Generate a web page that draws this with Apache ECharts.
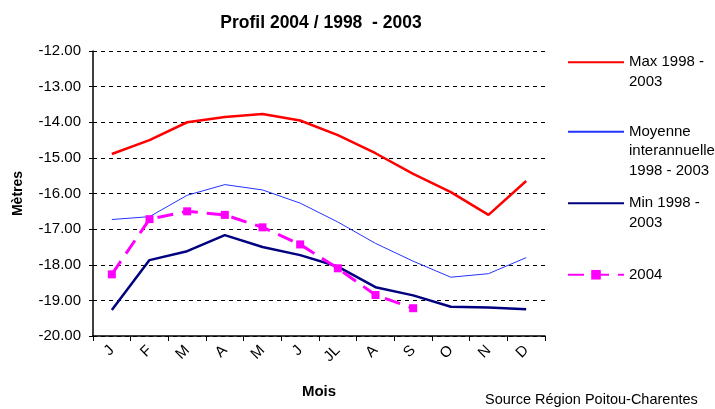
<!DOCTYPE html>
<html>
<head>
<meta charset="utf-8">
<script src="https://cdn.jsdelivr.net/npm/echarts@6/dist/echarts.min.js"></script>
<style>
    html, body {margin: 0; padding: 0; background: #fff;}
    #chart {width: 715px; height: 409px;}
</style>
</head>
<body>
<div id="chart"></div>
<script>
const months = ['J', 'F', 'M', 'A', 'M', 'J', 'JL', 'A', 'S', 'O', 'N', 'D'];
const maxValues = [-14.89, -14.5, -14.0, -13.85, -13.77, -13.95, -14.36, -14.87, -15.45, -15.96, -16.6, -15.65];
const meanValues = [-16.73, -16.65, -16.05, -15.75, -15.9, -16.27, -16.8, -17.4, -17.9, -18.35, -18.25, -17.8];
const minValues = [-19.27, -17.87, -17.62, -17.17, -17.5, -17.73, -18.05, -18.63, -18.86, -19.18, -19.2, -19.25];
const values2004 = [-18.27, -16.72, -16.5, -16.6, -16.95, -17.43, -18.1, -18.85, -19.22];

const names = {
    max: 'Max 1998 - 2003',
    mean: 'Moyenne interannuelle 1998 - 2003',
    min: 'Min 1998 - 2003',
    y2004: '2004',
};
// extra blank lines so the icon sits on the first line of text
const legendLabels = {
    [names.max]: '\nMax 1998 -\n2003',
    [names.mean]: '\n\nMoyenne\ninterannuelle\n1998 - 2003',
    [names.min]: '\nMin 1998 -\n2003',
    [names.y2004]: '2004',
};

const font = 'Liberation Sans, Arial, sans-serif';
const chart = echarts.init(document.getElementById('chart'));

const mkLegend = (name, top, withMarker) => ({
    data: [name],
    left: 567,
    top: top,
    padding: 0,
    itemWidth: 56,
    itemHeight: 12,
    selectedMode: false,
    itemStyle: withMarker ? {} : {opacity: 0},
    formatter: n => legendLabels[n],
    textStyle: {fontFamily: font, fontSize: 15, color: '#000', lineHeight: 19.5},
});

chart.setOption({
    animation: false,
    title: {
        text: 'Profil 2004 / 1998  - 2003',
        left: 316,
        textAlign: 'center',
        top: 9,
        textStyle: {fontFamily: font, fontSize: 17.5, fontWeight: 'bold', color: '#000'},
    },
    legend: [
        mkLegend(names.max, 33, false),
        mkLegend(names.mean, 83, false),
        mkLegend(names.min, 174, false),
        mkLegend(names.y2004, 265, true),
    ],
    grid: {left: 93, right: 170, top: 51, bottom: 73},
    xAxis: {
        type: 'category',
        data: months,
        boundaryGap: true,
        name: 'Mois',
        nameLocation: 'middle',
        nameGap: 48,
        nameTextStyle: {fontFamily: font, fontSize: 15, fontWeight: 'bold', color: '#000'},
        axisLine: {lineStyle: {color: '#000', width: 1.5}},
        axisTick: {show: true, length: 5, lineStyle: {color: '#000'}},
        axisLabel: {
            rotate: 45,
            interval: 0,
            margin: 12,
            fontFamily: font,
            fontSize: 15,
            color: '#000',
        },
        splitLine: {show: false},
    },
    yAxis: {
        type: 'value',
        min: -20,
        max: -12,
        interval: 1,
        name: 'Mètres',
        nameLocation: 'middle',
        nameGap: 68,
        nameTextStyle: {fontFamily: font, fontSize: 14, fontWeight: 'bold', color: '#000'},
        axisLine: {show: true, lineStyle: {color: '#000', width: 1.5}},
        axisTick: {show: true, length: 4, lineStyle: {color: '#000'}},
        axisLabel: {
            formatter: v => v.toFixed(2),
            margin: 12,
            fontFamily: font,
            fontSize: 15,
            color: '#000',
        },
        splitLine: {show: true, lineStyle: {color: '#000', type: [4, 4], width: 1}},
    },
    series: [
        {
            name: names.max,
            type: 'line',
            data: maxValues,
            symbol: 'none',
            lineStyle: {color: '#ff0000', width: 2.5},
            itemStyle: {color: '#ff0000'},
        },
        {
            name: names.mean,
            type: 'line',
            data: meanValues,
            symbol: 'none',
            lineStyle: {color: '#2233ff', width: 1},
            itemStyle: {color: '#2233ff'},
        },
        {
            name: names.min,
            type: 'line',
            data: minValues,
            symbol: 'none',
            lineStyle: {color: '#000080', width: 2.5},
            itemStyle: {color: '#000080'},
        },
        {
            name: names.y2004,
            type: 'line',
            data: values2004,
            symbol: 'rect',
            symbolSize: 8,
            lineStyle: {color: '#ff00ff', width: 3, type: [16, 9]},
            itemStyle: {color: '#ff00ff'},
        },
    ],
    graphic: [{
        type: 'text',
        left: 485,
        top: 392,
        style: {
            text: 'Source Région Poitou-Charentes',
            fontFamily: font,
            fontSize: 14.5,
            fill: '#000',
        },
    }],
});
</script>
</body>
</html>
